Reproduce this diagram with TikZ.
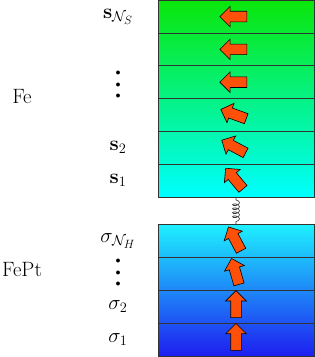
\documentclass[tikz,border=0pt]{standalone}
\usepackage{amsmath}
\usepackage{tikz}
\usetikzlibrary{positioning,shapes.arrows,decorations.pathmorphing}

\definecolor{fetop}{RGB}{10,230,10}
\definecolor{febot}{RGB}{0,255,255}
\definecolor{pttop}{RGB}{30,240,255}
\definecolor{ptbot}{RGB}{30,30,240}
\definecolor{spincol}{RGB}{255,80,10}

\newcommand{\tallvdots}{\vbox{\normalsize\baselineskip=11.5pt\lineskiplimit=0pt
\hbox{$\bullet$}\hbox{$\bullet$}\hbox{$\bullet$}}}

\begin{document}
\begin{tikzpicture}[
x=1pt,
y=1pt,
layer/.style={
draw=black!80,
line width=0.6pt,
minimum width=156pt,
minimum height=32.8pt,
inner sep=0pt,
outer sep=0pt
},
felayer/.style 2 args={
layer,
top color=fetop!#1!febot,
bottom color=fetop!#2!febot
},
ptlayer/.style 2 args={
layer,
top color=pttop!#1!ptbot,
bottom color=pttop!#2!ptbot
},
spin/.style={
single arrow,
draw=black,
line width=0.6pt,
fill=spincol,
inner sep=5pt,
minimum height=27pt,
single arrow head extend=5pt
},
lbl/.style={
font=\huge
},
spring/.style={
decorate,
line width=0.6pt,
draw=black!80,
decoration={coil, aspect=0.5, segment length=4pt, amplitude=3.5pt,
pre length=3pt, post length=3pt}
}
]

\useasboundingbox (0,0) rectangle (315,357);


% FePt layers

\node (h1) [ptlayer={25}{0}] at (236,17.4) {};
\node (h2) [ptlayer={50}{25}, above=0pt of h1] {};
\node (h3) [ptlayer={75}{50}, above=0pt of h2] {};
\node (h4) [ptlayer={100}{75}, above=0pt of h3] {};


% Fe layers

\node (f1) [felayer={16.7}{0}] at (236,176.4) {};
\node (f2) [felayer={33.3}{16.7}, above=0pt of f1] {};
\node (f3) [felayer={50}{33.3}, above=0pt of f2] {};
\node (f4) [felayer={66.7}{50}, above=0pt of f3] {};
\node (f5) [felayer={83.3}{66.7}, above=0pt of f4] {};
\node (f6) [felayer={100}{83.3}, above=0pt of f5] {};


% interface coupling

\draw[spring] (f1.south) -- (h4.north);


% spins

\node (m1) [spin, rotate=90] at (h1) {};
\node (m2) [spin, rotate=90] at (h2) {};
\node (m3) [spin, rotate=106] at (h3) {};
\node (m4) [spin, rotate=118] at (h4) {};

\node (m5) [spin, rotate=130] at (f1) {};
\node (m6) [spin, rotate=152] at (f2) {};
\node (m7) [spin, rotate=160] at (f3) {};
\node (m8) [spin, rotate=180] at (f4) {};
\node (m9) [spin, rotate=180] at (f5) {};
\node (m10) [spin, rotate=180] at (f6) {};


% labels

\node (fe) [lbl] at (22,260) {Fe};
\node (fept) [lbl] at (22,87) {FePt};

\node (s1) [lbl] at (118,0 |- f1) {$\mathbf{s}_1$};
\node (s2) [lbl] at (118,0 |- f2) {$\mathbf{s}_2$};
\node (sdots) [lbl] at (118,272) {\tallvdots};
\node (sN) [lbl] at (118,0 |- f6) {$\mathbf{s}_{\mathcal{N}_S}$};

\node (sig1) [lbl] at (118,0 |- h1) {$\sigma_1$};
\node (sig2) [lbl] at (118,0 |- h2) {$\sigma_2$};
\node (sigdots) [lbl] at (118,84) {\tallvdots};
\node (sigN) [lbl] at (118,0 |- h4) {$\sigma_{\mathcal{N}_H}$};

\end{tikzpicture}
\end{document}
